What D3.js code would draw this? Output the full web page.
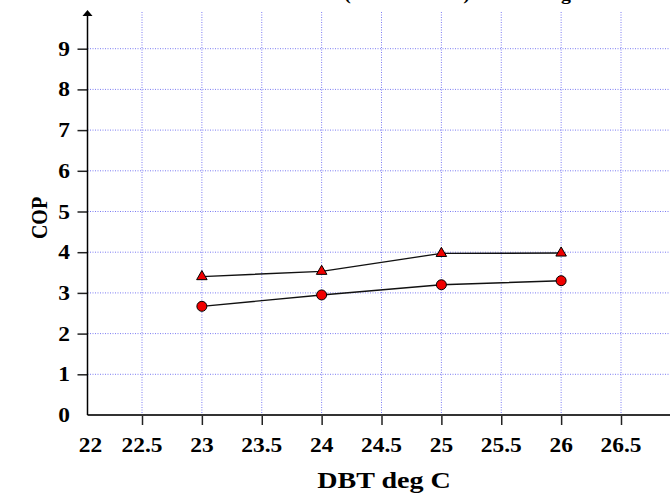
<!DOCTYPE html>
<html>
<head>
<meta charset="utf-8">
<script src="https://cdn.jsdelivr.net/npm/d3@7"></script>
<style>
  body { margin: 0; background: #fff; }
</style>
</head>
<body>
<svg id="chart" width="670" height="495"></svg>
<script>
var dbt = [23, 24, 25, 26];
var copTriangle = [3.4, 3.53, 3.97, 3.98];
var copCircle = [2.67, 2.95, 3.2, 3.3];
var xTicks = [22, 22.5, 23, 23.5, 24, 24.5, 25, 25.5, 26, 26.5];
var yTicks = [0, 1, 2, 3, 4, 5, 6, 7, 8, 9];

var width = 670, height = 495;
var serif = "Liberation Serif, Times New Roman, serif";
var sx = 1.17; // the reference text is stretched a little sideways
var svg = d3.select("#chart");

var x = d3.scaleLinear().domain([22.5, 26.5]).range([142, 621]);
var y = d3.scaleLinear().domain([0, 9]).range([415, 48.7]);
var x0 = 87.5, yTop = 10;

function label(sel, size){
    return sel.attr("font-family", serif)
        .attr("font-weight", "bold")
        .attr("font-size", size)
        .attr("fill", "#000");
}
function at(px, py, rot){
    return "translate(" + px + "," + py + ") scale(" + sx + ",1)" + (rot ? " rotate(" + rot + ")" : "");
}

// title, mostly cut off at top like the reference
svg.append("text")
    .attr("transform", at(104, 0))
    .call(label, 17)
    .text("Variation of COP with DBT (Constant RH) for Cooling");

// grid
svg.append("g").selectAll("line")
    .data(xTicks.filter(function(d){ return d > 22; }))
    .enter().append("line")
    .attr("x1", function(d){ return x(d); })
    .attr("x2", function(d){ return x(d); })
    .attr("y1", 12)
    .attr("y2", y(0))
    .attr("stroke", "#7c7cf2")
    .attr("stroke-width", 1)
    .attr("stroke-dasharray", "1,1.5");

svg.append("g").selectAll("line")
    .data(yTicks.filter(function(d){ return d > 0; }))
    .enter().append("line")
    .attr("x1", x0)
    .attr("x2", width)
    .attr("y1", function(d){ return y(d); })
    .attr("y2", function(d){ return y(d); })
    .attr("stroke", "#7c7cf2")
    .attr("stroke-width", 1)
    .attr("stroke-dasharray", "1,1.5");

// x axis
var xAxis = d3.axisBottom(x)
    .tickValues(xTicks.filter(function(d){ return d > 22; }))
    .tickSize(10)
    .tickFormat("");
var gx = svg.append("g").attr("transform", "translate(0," + y(0) + ")").call(xAxis);
gx.select(".domain").remove();
gx.selectAll(".tick line").attr("stroke", "#222").attr("stroke-width", 1.5);

svg.append("line")
    .attr("x1", x0).attr("x2", width)
    .attr("y1", y(0)).attr("y2", y(0))
    .attr("stroke", "#333").attr("stroke-width", 2);

svg.append("g").selectAll("text")
    .data(xTicks)
    .enter().append("text")
    .attr("transform", function(d){ return at(d === 22 ? x0 + 3 : x(d), 452); })
    .attr("text-anchor", "middle")
    .call(label, 20)
    .text(function(d){ return d; });

// y axis
var yAxis = d3.axisLeft(y)
    .tickValues(yTicks.filter(function(d){ return d > 0; }))
    .tickSize(10)
    .tickFormat("");
var gy = svg.append("g").attr("transform", "translate(" + x0 + ",0)").call(yAxis);
gy.select(".domain").remove();
gy.selectAll(".tick line").attr("stroke", "#222").attr("stroke-width", 1.5);

svg.append("line")
    .attr("x1", x0).attr("x2", x0)
    .attr("y1", y(0)).attr("y2", yTop + 4)
    .attr("stroke", "#000").attr("stroke-width", 1.5);
svg.append("path")
    .attr("d", "M" + x0 + "," + yTop + "L" + (x0 - 5) + "," + (yTop + 6) + "L" + (x0 + 5) + "," + (yTop + 6) + "Z")
    .attr("fill", "#000");

svg.append("g").selectAll("text")
    .data(yTicks)
    .enter().append("text")
    .attr("transform", function(d){ return at(70, y(d)); })
    .attr("dy", "0.35em")
    .attr("text-anchor", "end")
    .call(label, 20)
    .text(function(d){ return d; });

// axis titles
svg.append("text")
    .attr("transform", at(384, 488))
    .attr("text-anchor", "middle")
    .call(label, 24)
    .text("DBT deg C");

svg.append("text")
    .attr("transform", at(47, 218, -90))
    .attr("text-anchor", "middle")
    .call(label, 20)
    .text("COP");

// series
var line = d3.line()
    .x(function(d, i){ return x(dbt[i]); })
    .y(function(d){ return y(d); });

[copTriangle, copCircle].forEach(function(s){
    svg.append("path")
        .attr("d", line(s))
        .attr("fill", "none")
        .attr("stroke", "#111")
        .attr("stroke-width", 1.4);
});

svg.append("g").selectAll("path")
    .data(copTriangle)
    .enter().append("path")
    .attr("transform", function(d, i){ return "translate(" + x(dbt[i]) + "," + y(d) + ")"; })
    .attr("d", d3.symbol().type(d3.symbolTriangle).size(48))
    .attr("fill", "#f00000")
    .attr("stroke", "#000")
    .attr("stroke-width", 1);

svg.append("g").selectAll("circle")
    .data(copCircle)
    .enter().append("circle")
    .attr("cx", function(d, i){ return x(dbt[i]); })
    .attr("cy", function(d){ return y(d); })
    .attr("r", 5)
    .attr("fill", "#f00000")
    .attr("stroke", "#000")
    .attr("stroke-width", 1);
</script>
</body>
</html>
